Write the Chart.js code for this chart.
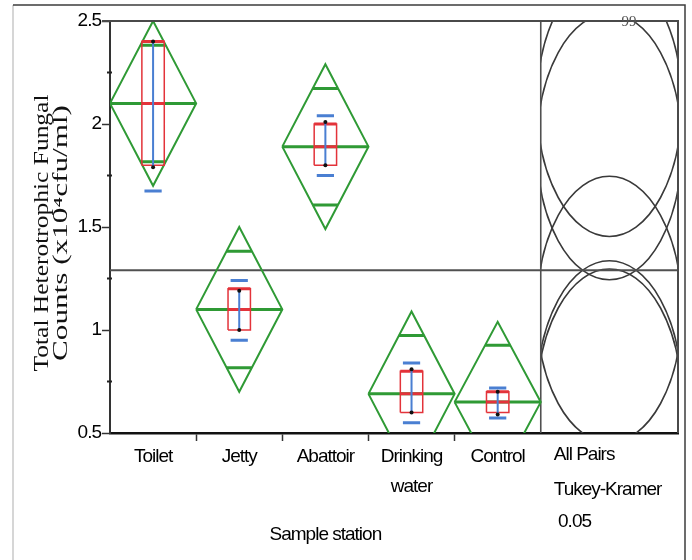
<!DOCTYPE html>
<html>
<head>
<meta charset="utf-8">
<script src="https://cdn.jsdelivr.net/npm/chart.js@4.4.1/dist/chart.umd.min.js"></script>
<style>
  html, body { margin: 0; padding: 0; background: #fff; }
  #wrap { width: 692px; height: 560px; }
</style>
</head>
<body>
<div id="wrap"><canvas id="fungal-chart" width="692" height="560"></canvas></div>
<script>
// values (x10^4 cfu/ml)
var stations = ['Toilet', 'Jetty', 'Abattoir', ['Drinking', 'water'], 'Control'];
var means    = [2.10, 1.10, 1.89, 0.69, 0.65];
var ciHalf   = [0.40, 0.40, 0.40, 0.40, 0.39];
var boxLow   = [1.80, 1.00, 1.80, 0.60, 0.60];
var boxHigh  = [2.40, 1.20, 2.00, 0.80, 0.70];
var errLow   = [1.79, 1.00, 1.80, 0.60, 0.59];
var errHigh  = [2.40, 1.19, 2.01, 0.81, 0.70];
var sdLow    = [1.675, 0.95, 1.75, 0.55, 0.573];
var sdHigh   = [2.525, 1.24, 2.04, 0.84, 0.718];
var yTickLabels = [0.5, 1, 1.5, 2, 2.5];
var yMinorTicks = [0.75, 1.25, 1.75, 2.25];
var grandMean = 1.29;
var circleRadius = 0.646;
var sideLabels = ['All Pairs', 'Tukey-Kramer', ' 0.05'];

var GROUPS = stations.length;
var X_MAX = 6.593;                    // room on the right for the comparison circles
var CIRCLE_X = (GROUPS + X_MAX) / 2;
var CIRCLE_RX = 0.84;
var BOX_HW = 0.13;
var SD_HW = 0.10;

var SANS = "'Liberation Sans Narrow', 'Liberation Sans', Arial, sans-serif";
var SERIF = "'Liberation Serif', 'DejaVu Serif', serif";

// turns a list of [x1,y1,x2,y2] pieces into one gapped line
function segs(list) {
    var out = [];
    list.forEach(function (s) {
        out.push({x: s[0], y: s[1]}, {x: s[2], y: s[3]}, {x: s[2], y: null});
    });
    return out;
}

var diamond = [], meanLine = [], overlap = [], boxEdge = [], median = [], errBar = [], sdMarks = [], dots = [];
for (var i = 0; i < GROUPS; i++) {
    var m = means[i], c = ciHalf[i], mid = i + 0.5;
    diamond.push({x: i, y: m}, {x: mid, y: m + c}, {x: i + 1, y: m}, {x: mid, y: m - c}, {x: i, y: m}, {x: i, y: null});
    meanLine.push([i, m, i + 1, m]);
    var h = c / Math.SQRT2, hw = 0.5 * (1 - 1 / Math.SQRT2);
    overlap.push([mid - hw, m + h, mid + hw, m + h], [mid - hw, m - h, mid + hw, m - h]);
    boxEdge.push({x: mid - BOX_HW, y: boxLow[i]}, {x: mid - BOX_HW, y: boxHigh[i]}, {x: mid + BOX_HW, y: boxHigh[i]},
                 {x: mid + BOX_HW, y: boxLow[i]}, {x: mid - BOX_HW, y: boxLow[i]}, {x: mid, y: null});
    median.push([mid - BOX_HW, m, mid + BOX_HW, m], [mid - BOX_HW, boxHigh[i], mid + BOX_HW, boxHigh[i]]);
    errBar.push([mid, errLow[i], mid, errHigh[i]]);
    sdMarks.push([mid - SD_HW, sdLow[i], mid + SD_HW, sdLow[i]], [mid - SD_HW, sdHigh[i], mid + SD_HW, sdHigh[i]]);
    dots.push({x: mid, y: errLow[i]}, {x: mid, y: errHigh[i]});
}

function lineSet(data, color, width, order) {
    return {data: data, borderColor: color, borderWidth: width, pointRadius: 0, fill: false,
            tension: 0, spanGaps: false, order: order, borderJoinStyle: 'miter', borderCapStyle: 'butt'};
}

var GREEN = '#2f9a35', RED = '#e3333a', BLUE = '#4a7fd2';

// extra drawing: circles, frame, minor ticks and free text
var extras = {
    id: 'extras',
    beforeDraw: function (chart) {
        // the scan's lettering is narrow, tighten it a little
        chart.ctx.letterSpacing = '-1px';
    },
    beforeDatasetsDraw: function (chart) {
        var ctx = chart.ctx, xs = chart.scales.x, ys = chart.scales.y, a = chart.chartArea;
        var left = xs.getPixelForValue(GROUPS);
        ctx.save();
        ctx.beginPath();
        ctx.rect(left, a.top, a.right - left, a.bottom - a.top);
        ctx.clip();
        ctx.strokeStyle = '#3a3a3a';
        ctx.lineWidth = 1.6;
        var cx = xs.getPixelForValue(CIRCLE_X);
        var rx = xs.getPixelForValue(CIRCLE_X + CIRCLE_RX) - cx;
        means.forEach(function (m) {
            var cy = ys.getPixelForValue(m);
            var ry = ys.getPixelForValue(m - circleRadius) - cy;
            ctx.beginPath();
            ctx.ellipse(cx, cy, rx, ry, 0, 0, Math.PI * 2);
            ctx.stroke();
        });
        ctx.restore();
        // grand mean line
        ctx.save();
        ctx.strokeStyle = '#505050';
        ctx.lineWidth = 2;
        var gy = ys.getPixelForValue(grandMean);
        ctx.beginPath(); ctx.moveTo(a.left, gy); ctx.lineTo(a.right, gy); ctx.stroke();
        // separator
        ctx.lineWidth = 1.6;
        ctx.beginPath(); ctx.moveTo(left, a.top); ctx.lineTo(left, a.bottom); ctx.stroke();
        ctx.restore();
    },
    afterDraw: function (chart) {
        var ctx = chart.ctx, xs = chart.scales.x, ys = chart.scales.y, a = chart.chartArea;
        ctx.save();
        // plot frame top and right
        ctx.strokeStyle = '#4a4a4a';
        ctx.lineWidth = 2;
        ctx.beginPath();
        ctx.moveTo(a.left - 8, a.top); ctx.lineTo(a.right, a.top); ctx.lineTo(a.right, a.bottom);
        ctx.stroke();
        // minor y ticks
        ctx.strokeStyle = '#222';
        ctx.lineWidth = 2;
        yMinorTicks.forEach(function (v) {
            var y = ys.getPixelForValue(v);
            ctx.beginPath(); ctx.moveTo(a.left - 3, y); ctx.lineTo(a.left + 2, y); ctx.stroke();
        });
        // outer page frame
        ctx.lineWidth = 1.5;
        ctx.strokeStyle = '#c8c8c8';
        ctx.beginPath(); ctx.moveTo(13, 5); ctx.lineTo(13, 560); ctx.stroke();
        ctx.strokeStyle = '#3c3c3c';
        ctx.beginPath(); ctx.moveTo(13, 5); ctx.lineTo(685, 5); ctx.lineTo(685, 560); ctx.stroke();

        // texts
        ctx.fillStyle = '#000';
        ctx.font = '19px ' + SANS;
        ctx.textBaseline = 'middle';
        ctx.textAlign = 'center';
        ctx.fillText('Sample station', (xs.getPixelForValue(0) + xs.getPixelForValue(GROUPS)) / 2, 535);
        ctx.textAlign = 'left';
        var sx = xs.getPixelForValue(GROUPS) + 13;
        var sy = [455, 490, 522];
        sideLabels.forEach(function (t, k) { ctx.fillText(t, sx, sy[k]); });

        // y title, stretched along its length like the scan
        ctx.letterSpacing = '0px';
        var lines = ['Total Heterotrophic Fungal', 'Counts (x10\u2074cfu/ml)'];
        var lx = [43, 62], lens = [277, 256];
        ctx.font = '20px ' + SERIF;
        ctx.textAlign = 'center';
        ctx.fillStyle = '#111';
        lines.forEach(function (t, k) {
            var w = ctx.measureText(t).width;
            ctx.save();
            ctx.translate(lx[k], 233);
            ctx.rotate(-Math.PI / 2);
            ctx.scale(lens[k] / w, 1);
            ctx.fillText(t, 0, 0);
            ctx.restore();
        });

        // page number
        ctx.font = '15px ' + SERIF;
        ctx.fillStyle = '#555';
        ctx.textAlign = 'center';
        ctx.fillText('99', 629, 22);
        ctx.restore();
    }
};

var ctx = document.getElementById('fungal-chart').getContext('2d');
var fungalChart = new Chart(ctx, {
    type: 'line',
    data: {
        datasets: [
            Object.assign(lineSet(dots, '#111', 0, 1), {pointRadius: 2, pointBackgroundColor: '#111', pointBorderWidth: 0, showLine: false}),
            lineSet(segs(sdMarks), BLUE, 3, 2),
            lineSet(segs(errBar), BLUE, 2, 3),
            lineSet(segs(median), RED, 3, 4),
            lineSet(boxEdge, RED, 1.5, 5),
            lineSet(segs(overlap), GREEN, 3, 6),
            lineSet(segs(meanLine), GREEN, 3, 7),
            lineSet(diamond, GREEN, 2, 8)
        ]
    },
    options: {
        responsive: false,
        animation: false,
        layout: {padding: {left: 0, right: 14, top: 21, bottom: 0}},
        plugins: {legend: {display: false}, tooltip: {enabled: false}},
        scales: {
            x: {
                type: 'linear',
                min: 0,
                max: X_MAX,
                afterBuildTicks: function (scale) {
                    var t = [];
                    for (var k = 1; k < 2 * GROUPS; k++) t.push({value: k / 2});
                    scale.ticks = t;
                },
                afterFit: function (scale) { scale.height = 127; },
                ticks: {
                    autoSkip: false, maxRotation: 0, minRotation: 0, padding: 0,
                    color: '#000',
                    font: {family: SANS, size: 19, lineHeight: 1.62},
                    callback: function (v) { return (v % 1 === 0.5) ? stations[Math.floor(v)] : ''; }
                },
                grid: {
                    drawOnChartArea: false, tickLength: 8, tickWidth: 1.5,
                    tickColor: function (c) { return (c.tick && c.tick.value % 1 === 0) ? '#333' : 'rgba(0,0,0,0)'; }
                },
                border: {color: '#111', width: 2.5}
            },
            y: {
                type: 'linear',
                min: 0.5,
                max: 2.5,
                afterBuildTicks: function (scale) {
                    scale.ticks = yTickLabels.map(function (v) { return {value: v}; });
                },
                afterFit: function (scale) { scale.width = 110; },
                ticks: {
                    padding: 1, color: '#000',
                    font: {family: SANS, size: 19},
                    callback: function (v) { return String(v); }
                },
                grid: {drawOnChartArea: false, tickLength: 8, tickWidth: 1.5, tickColor: '#333'},
                border: {color: '#333', width: 2}
            }
        }
    },
    plugins: [extras]
});
</script>
</body>
</html>
